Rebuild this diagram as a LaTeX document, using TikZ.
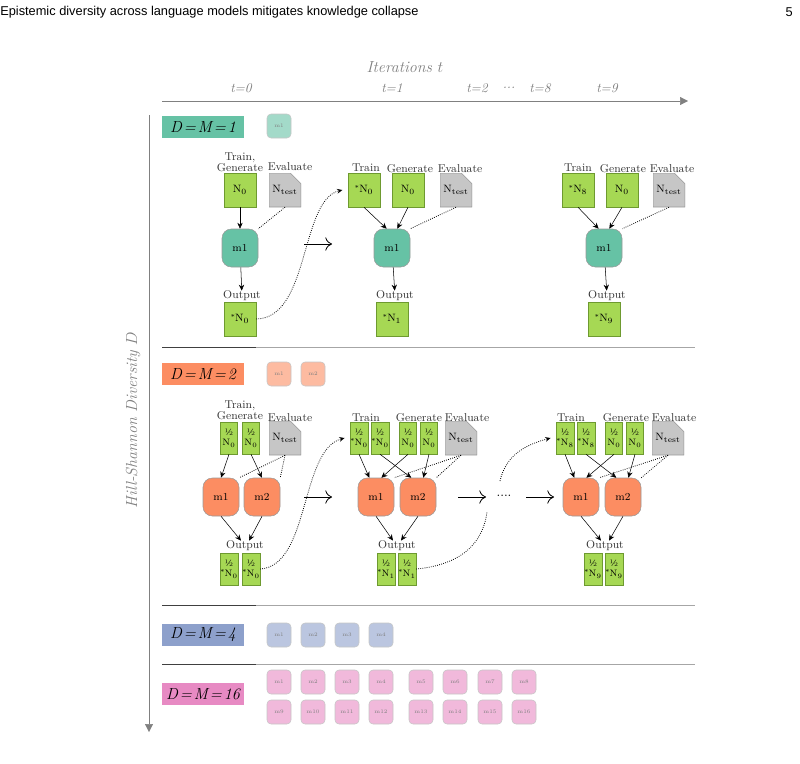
\documentclass[tikz,border=0pt]{standalone}
\usepackage{fontspec}
\newfontfamily\hdr{Liberation Sans}
\usetikzlibrary{arrows.meta}
\definecolor{gfill}{HTML}{A6D854}
\definecolor{gbd}{HTML}{6E9A30}
\definecolor{dfill}{HTML}{C6C6C6}
\definecolor{dbd}{HTML}{9A9A9A}
\definecolor{cteal}{HTML}{66C2A5}
\definecolor{corg}{HTML}{FC8D62}
\definecolor{cblu}{HTML}{8DA0CB}
\definecolor{cpnk}{HTML}{E78AC3}
\newcommand\Nx[1]{\mbox{N$_{\mathrm{#1}}$}}
\newcommand\Sx[1]{\mbox{\raisebox{1.5pt}{\tiny*}\Nx{#1}}}
\newcommand\DM[1]{D\kern1.5pt=\kern1.5ptM\kern1.5pt=\kern1.5pt#1}
\begin{document}
\begin{tikzpicture}[x=0.75pt,y=-0.75pt,
 gbox/.style={draw=gbd,fill=gfill,minimum width=24pt,minimum height=25.5pt,inner sep=0pt,font=\footnotesize},
 hbox/.style={draw=gbd,fill=gfill,minimum width=12.75pt,minimum height=24pt,inner sep=0pt,align=center,font=\scriptsize},
 doc/.style={minimum width=24pt,minimum height=25.5pt,inner sep=0pt,font=\footnotesize,
   path picture={\filldraw[fill=dfill,draw=dbd] (path picture bounding box.south west) -- (path picture bounding box.north west) -- ([xshift=-8pt]path picture bounding box.north east) -- ([yshift=-8pt]path picture bounding box.north east) -- (path picture bounding box.south east) -- cycle;}},
 mod/.style={draw=gray!80,rounded corners=7pt,minimum width=27pt,minimum height=28.5pt,font=\footnotesize},
 sm/.style={draw=gray!45,rounded corners=3pt,minimum size=18pt,inner sep=0pt,font=\fontsize{4}{5}\selectfont,text=gray},
 lab/.style={font=\fontsize{8.5}{8.5}\selectfont,align=center,inner sep=0pt,text=black!80},
 tl/.style={font=\normalsize\itshape,text=gray},
 dl/.style={font=\fontsize{12}{13}\selectfont\itshape,inner sep=0pt,minimum width=62pt,minimum height=16pt},
 arr/.style={-{Stealth[length=4.5pt,width=4pt]}},
 dot/.style={densely dotted,semithick},
 big/.style={-{To[length=5pt,width=10pt]},semithick},
 sep/.style={gray!70}]
\useasboundingbox (0,0) rectangle (800,764);
% header
\node[anchor=west,inner sep=0pt,font=\hdr\fontsize{9.6}{11}\selectfont] (hd) at (0,12) {Epistemic diversity across language models mitigates knowledge collapse};
\node[anchor=east,inner sep=0pt,font=\hdr\fontsize{9.6}{11}\selectfont] (pg) at (793,12) {5};
% axes
\node[font=\large\itshape,text=gray] (it) at (405,67) {Iterations $t$};
\node[tl] (t0) at (241,88) {t=0};
\node[tl] (t1) at (392,88) {t=1};
\node[tl] (t2) at (477,88) {t=2};
\node[tl] (td) at (509,88) {...};
\node[tl] (t8) at (540,88) {t=8};
\node[tl] (t9) at (607,88) {t=9};
\coordinate (h0) at (162,101); \coordinate (h1) at (688,101);
\draw[gray,-{Triangle[length=6pt,width=6pt]}] (h0) -- (h1);
\coordinate (v0) at (149,115); \coordinate (v1) at (149,732);
\draw[gray,-{Triangle[length=6pt,width=6pt]}] (v0) -- (v1);
\node[rotate=90,font=\large\itshape,text=gray] (hs) at (133,420) {Hill-Shannon Diversity $D$};
% separators
\foreach \y in {347,605,664}{\draw[black!75] (162,\y) -- (256,\y); \draw[sep] (256,\y) -- (695,\y);}
% D labels
\node[dl,fill=cteal] (d1) at (203,127) {\DM{1}};
\node[dl,fill=corg] (d2) at (203,374) {\DM{2}};
\node[dl,fill=cblu] (d4) at (203,635) {\DM{4}};
\node[dl,fill=cpnk] (d16) at (203,694) {\DM{16}};
\node[sm,fill=cteal!60] (s11) at (279,126) {m1};
\node[sm,fill=corg!60] (s21) at (279,374) {m1};
\node[sm,fill=corg!60] (s22) at (313,374) {m2};
\foreach \x [count=\i] in {279,313,347,381}{\node[sm,fill=cblu!60] (s4\i) at (\x,635) {m\i};}
\foreach \x [count=\i] in {279,313,347,381,421,455,490,524}{
  \node[sm,fill=cpnk!60] (sa\i) at (\x,682) {m\i};
  \pgfmathtruncatemacro\j{\i+8}
  \node[sm,fill=cpnk!60] (sb\i) at (\x,712) {m\j};}
%%%%% Section 1
% t=0
\node[lab] (a0l1) at (240,162) {Train,\\Generate};
\node[lab] (a0l2) at (290,167) {Evaluate};
\node[gbox] (a0n) at (240,190) {\Nx0};
\node[doc] (a0t) at (285,190) {\Nx{test}};
\node[mod,fill=cteal] (a0m) at (240,248) {m1};
\node[lab] (a0ol) at (242,296) {Output};
\node[gbox] (a0o) at (240,319) {\Sx0};
\draw[arr] (a0n) -- (a0m);
\draw[dot] (a0t.south) -- (a0m.north east);
\draw[arr] (a0m) -- (a0ol);
\coordinate (A1a) at (304,244); \coordinate (A1b) at (332,244);
\draw[big] (A1a) -- (A1b);
% t=1
\node[lab] (a1l1) at (366,168) {Train};
\node[lab] (a1l2) at (410,169) {Generate};
\node[lab] (a1l3) at (460,169) {Evaluate};
\node[gbox] (a1a) at (364,190) {\Sx0};
\node[gbox] (a1b) at (408,190) {\Nx0};
\node[doc] (a1t) at (456,190) {\Nx{test}};
\node[mod,fill=cteal] (a1m) at (392,248) {m1};
\node[lab] (a1ol) at (395,296) {Output};
\node[gbox] (a1o) at (392,319) {\Sx1};
\draw[arr] (a1a.south) -- ([xshift=-4pt]a1m.north);
\draw[arr] (a1b.south) -- ([xshift=4pt]a1m.north);
\draw[dot] (a1t.south) -- (a1m.north east);
\draw[arr] (a1m) -- (a1ol);
\draw[dot,-{Stealth[length=4pt,width=3.5pt]}] (a0o.east) .. controls (310,318) and (300,200) .. ([xshift=-4pt]a1a.west);
% t=9
\node[lab] (a9l1) at (578,168) {Train};
\node[lab] (a9l2) at (623,169) {Generate};
\node[lab] (a9l3) at (672,169) {Evaluate};
\node[gbox] (a9a) at (578,190) {\Sx8};
\node[gbox] (a9b) at (622,190) {\Nx0};
\node[doc] (a9t) at (669,190) {\Nx{test}};
\node[mod,fill=cteal] (a9m) at (604,248) {m1};
\node[lab] (a9ol) at (607,296) {Output};
\node[gbox] (a9o) at (604,319) {\Sx9};
\draw[arr] (a9a.south) -- ([xshift=-4pt]a9m.north);
\draw[arr] (a9b.south) -- ([xshift=4pt]a9m.north);
\draw[dot] (a9t.south) -- (a9m.north east);
\draw[arr] (a9m) -- (a9ol);
%%%%% Section 2
% t=0
\node[lab] (b0l1) at (240,410) {Train,\\Generate};
\node[lab] (b0l2) at (290,418) {Evaluate};
\node[hbox] (b0a) at (229,438) {\textonehalf\\\Nx0};
\node[hbox] (b0b) at (251,438) {\textonehalf\\\Nx0};
\node[doc] (b0t) at (285,438) {\Nx{test}};
\node[mod,fill=corg] (b0m1) at (221,497) {m1};
\node[mod,fill=corg] (b0m2) at (262,497) {m2};
\node[lab] (b0ol) at (245,546) {Output};
\node[hbox] (b0o1) at (229,569) {\textonehalf\\\Sx0};
\node[hbox] (b0o2) at (251,569) {\textonehalf\\\Sx0};
\draw[arr] (b0a.south) -- (b0m1.north);
\draw[arr] (b0b.south) -- (b0m2.north);
\draw[dot] (b0t.south) -- (b0m1.north east);
\draw[dot] (b0t.south) -- (b0m2.north east);
\draw[arr] (b0m1.south) -- ([xshift=-3pt]b0ol.north);
\draw[arr] (b0m2.south) -- ([xshift=3pt]b0ol.north);
\coordinate (A2a) at (304,497); \coordinate (A2b) at (332,497);
\draw[big] (A2a) -- (A2b);
% t=1
\node[lab] (b1l1) at (366,418) {Train};
\node[lab] (b1l2) at (419,418) {Generate};
\node[lab] (b1l3) at (467,418) {Evaluate};
\node[hbox] (b1a) at (359,438) {\textonehalf\\\Sx0};
\node[hbox] (b1b) at (380,438) {\textonehalf\\\Sx0};
\node[hbox] (b1c) at (408,438) {\textonehalf\\\Nx0};
\node[hbox] (b1d) at (429,438) {\textonehalf\\\Nx0};
\node[doc] (b1t) at (461,438) {\Nx{test}};
\node[mod,fill=corg] (b1m1) at (376,497) {m1};
\node[mod,fill=corg] (b1m2) at (418,497) {m2};
\node[lab] (b1ol) at (397,546) {Output};
\node[hbox] (b1o1) at (386,569) {\textonehalf\\\Sx1};
\node[hbox] (b1o2) at (407,569) {\textonehalf\\\Sx1};
\draw[arr] (b1a.south) -- ([xshift=-5pt]b1m1.north);
\draw[arr] (b1b.south) -- ([xshift=-5pt]b1m2.north);
\draw[arr] (b1c.south) -- ([xshift=4pt]b1m1.north);
\draw[arr] (b1d.south) -- ([xshift=4pt]b1m2.north);
\draw[dot] (b1t.south) -- (b1m1.north east);
\draw[dot] (b1t.south) -- (b1m2.north east);
\draw[arr] (b1m1.south) -- ([xshift=-3pt]b1ol.north);
\draw[arr] (b1m2.south) -- ([xshift=3pt]b1ol.north);
\draw[dot,-{Stealth[length=4pt,width=3.5pt]}] (b0o2.east) .. controls (310,566) and (300,450) .. ([xshift=-4pt]b1a.west);
\coordinate (A3a) at (458,497); \coordinate (A3b) at (486,497);
\draw[big] (A3a) -- (A3b);
\node[inner sep=0pt] (dots) at (504,496) {....};
\coordinate (A4a) at (526,497); \coordinate (A4b) at (554,497);
\draw[big] (A4a) -- (A4b);
\coordinate (c1) at (487,512);
\draw[dot] (b1o2.east) .. controls (470,564) and (484,535) .. (c1);
% t=9
\node[lab] (b9l1) at (571,418) {Train};
\node[lab] (b9l2) at (626,418) {Generate};
\node[lab] (b9l3) at (674,418) {Evaluate};
\node[hbox] (b9a) at (565,438) {\textonehalf\\\Sx8};
\node[hbox] (b9b) at (586,438) {\textonehalf\\\Sx8};
\node[hbox] (b9c) at (614,438) {\textonehalf\\\Nx0};
\node[hbox] (b9d) at (635,438) {\textonehalf\\\Nx0};
\node[doc] (b9t) at (668,438) {\Nx{test}};
\node[mod,fill=corg] (b9m1) at (581,497) {m1};
\node[mod,fill=corg] (b9m2) at (623,497) {m2};
\node[lab] (b9ol) at (605,546) {Output};
\node[hbox] (b9o1) at (593,569) {\textonehalf\\\Sx9};
\node[hbox] (b9o2) at (614,569) {\textonehalf\\\Sx9};
\draw[arr] (b9a.south) -- ([xshift=-5pt]b9m1.north);
\draw[arr] (b9b.south) -- ([xshift=-5pt]b9m2.north);
\draw[arr] (b9c.south) -- ([xshift=4pt]b9m1.north);
\draw[arr] (b9d.south) -- ([xshift=4pt]b9m2.north);
\draw[dot] (b9t.south) -- (b9m1.north east);
\draw[dot] (b9t.south) -- (b9m2.north east);
\draw[arr] (b9m1.south) -- ([xshift=-3pt]b9ol.north);
\draw[arr] (b9m2.south) -- ([xshift=3pt]b9ol.north);
\coordinate (c2) at (500,481);
\draw[dot,-{Stealth[length=4pt,width=3.5pt]}] (c2) .. controls (506,455) and (525,445) .. ([xshift=-4pt]b9a.west);
\end{tikzpicture}
\end{document}
